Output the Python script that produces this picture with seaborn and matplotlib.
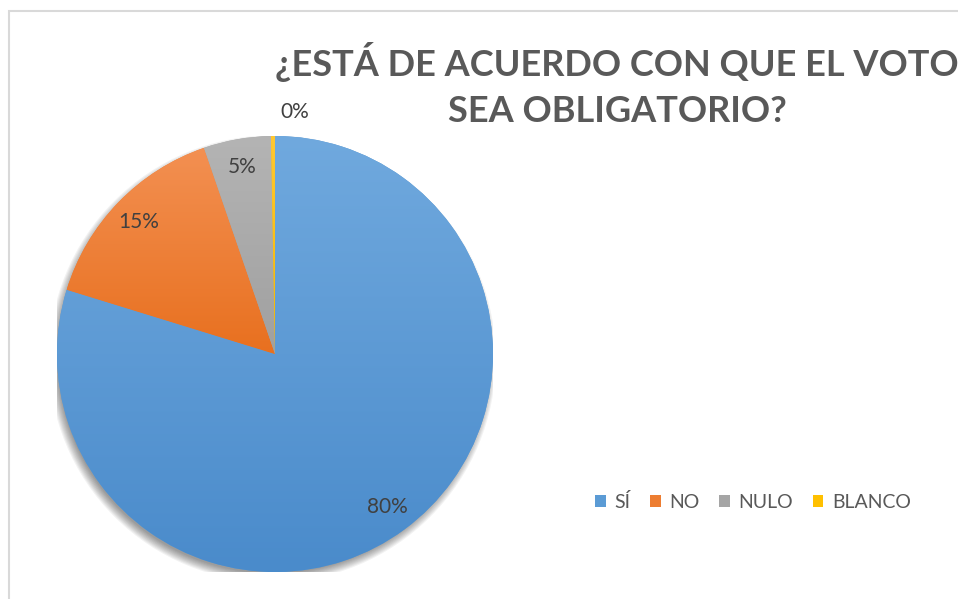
import matplotlib
matplotlib.use('Agg')
import numpy as np
import matplotlib.pyplot as plt
import matplotlib.patches as mpatches
from matplotlib.colors import LinearSegmentedColormap
import seaborn as sns

# Chart data
categories = ['SÍ', 'NO', 'NULO', 'BLANCO']
values = [80, 15, 5, 0.3]
colors = ['#5B9BD5', '#ED7D31', '#A5A5A5', '#FFC000']
# (top, bottom) gradient colours of each slice
gradients = [('#70A9DE', '#4A8BCB'), ('#F39052', '#E8701F'),
             ('#B4B4B4', '#A0A0A0'), ('#FFC832', '#F5B800')]
title_lines = ['¿ESTÁ DE ACUERDO CON QUE EL VOTO', 'SEA OBLIGATORIO?']

sns.set_style('white')
plt.rcParams['font.family'] = ['Lato', 'DejaVu Sans']

W, H = 958, 599
fig = plt.figure(figsize=(W / 100, H / 100), dpi=100)

# chart border (light gray, runs off the right/bottom edge)
fig.patches.append(mpatches.Rectangle((9 / W, -0.1), 1.2, 1 - 11 / H + 0.1,
                                      transform=fig.transFigure, fill=False,
                                      edgecolor='#D9D9D9', linewidth=1.5))

# pie axes: center (275, 354), radius 218 px
cx, cy, r = 275, H - 354, 218
ax = fig.add_axes([(cx - r) / W, (cy - r) / H, 2 * r / W, 2 * r / H])

# soft blurred shadow, offset down-left
for rad in np.linspace(0.985, 1.025, 9):
    ax.add_patch(mpatches.Circle((-0.012, -0.022), rad, color='black',
                                 alpha=0.05, linewidth=0, zorder=0))

wedges, texts, autotexts = ax.pie(values, colors=colors, startangle=90,
                                  counterclock=False, autopct='%.0f%%',
                                  pctdistance=0.87, radius=1.0,
                                  textprops={'fontsize': 15, 'color': '#404040'},
                                  wedgeprops={'linewidth': 0})

# vertical gradient fill for each slice
grad = np.linspace(1, 0, 256).reshape(-1, 1)
for w, (top, bottom) in zip(wedges, gradients):
    w.set_zorder(1)
    bb = w.get_path().get_extents()
    cmap = LinearSegmentedColormap.from_list('g', [bottom, top])
    im = ax.imshow(grad, cmap=cmap, vmin=0, vmax=1, origin='upper',
                   extent=(bb.x0, bb.x1, bb.y0, bb.y1), aspect='auto', zorder=2)
    im.set_clip_path(w)

for t in autotexts:
    t.set_zorder(3)
# the 0% label sits outside the pie
autotexts[3].set_position((0.09, 1.11))

ax.set_xlim(-1, 1)
ax.set_ylim(-1, 1)
ax.set_aspect('equal')
ax.axis('off')

fig.text(617 / W, 1 - 62 / H, title_lines[0], ha='center', va='center',
         fontsize=26, fontweight='bold', color='#595959')
fig.text(617 / W, 1 - 112 / H, title_lines[1], ha='center', va='center',
         fontsize=26, fontweight='bold', color='#595959')

fig.legend(wedges, categories, loc='center', bbox_to_anchor=(753 / W, 1 - 502 / H),
           ncol=4, frameon=False, fontsize=14, handlelength=0.55, handleheight=0.55,
           handletextpad=0.45, columnspacing=1.0, labelcolor='#595959')

fig.savefig('out.png', dpi=100)
